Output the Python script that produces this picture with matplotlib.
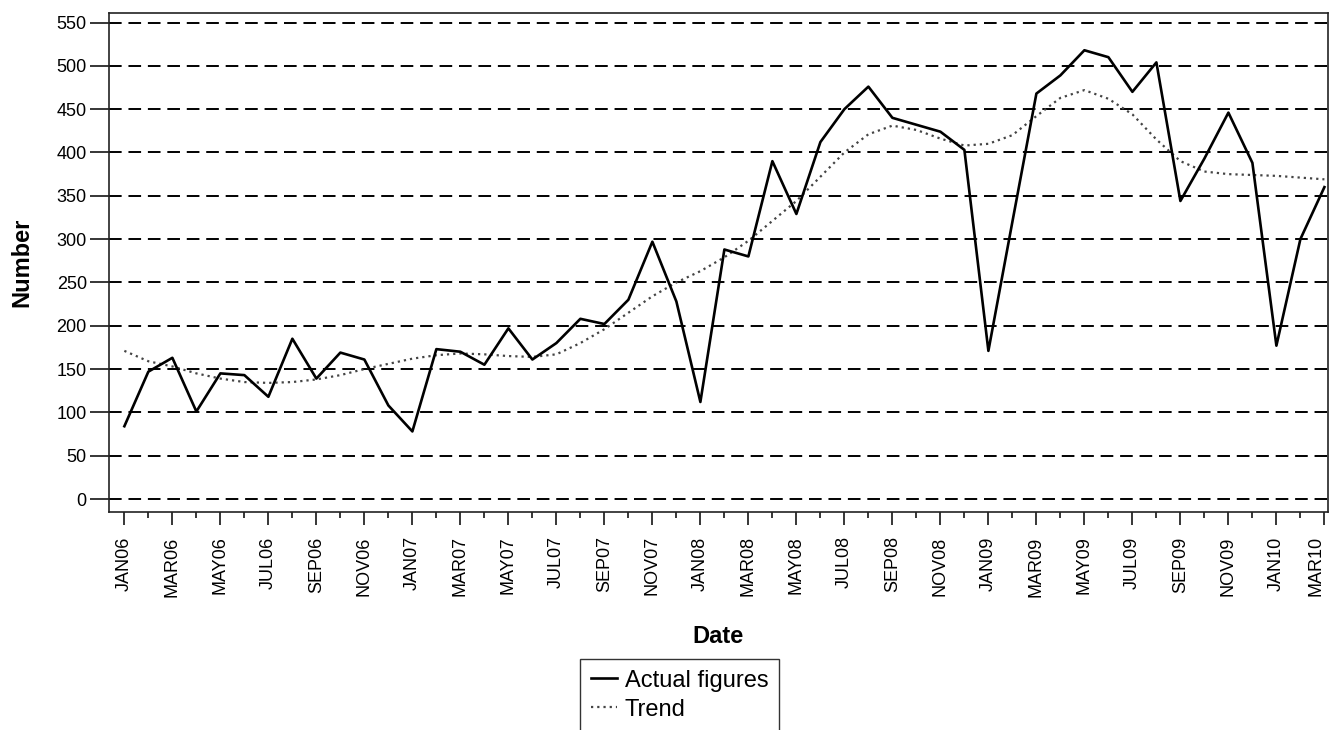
import matplotlib
matplotlib.use('Agg')
import matplotlib.pyplot as plt
from matplotlib.ticker import FixedLocator, NullFormatter
import pandas as pd

# monthly data, JAN06 .. MAR10
months = pd.date_range('2006-01-01', periods=51, freq='MS')
month_labels = [d.strftime('%b%y').upper() for d in months]

actual = [84, 147, 163, 101, 145, 143, 118, 185, 139, 169, 161, 108,
          78, 173, 170, 155, 197, 161, 180, 208, 202, 230, 297, 228,
          112, 288, 280, 390, 329, 412, 450, 476, 440, 432, 424, 403,
          171, 320, 468, 489, 518, 510, 470, 504, 344, 393, 446, 388,
          177, 300, 360]
trend = [171, 159, 153, 145, 139, 135, 134, 135, 138, 143, 150, 156,
         162, 166, 168, 167, 165, 164, 167, 180, 196, 215, 234, 250,
         263, 279, 298, 321, 344, 372, 400, 421, 431, 426, 416, 408,
         410, 420, 442, 463, 472, 462, 444, 415, 390, 378, 375, 374,
         373, 371, 369]

plt.rcParams['font.family'] = ['Liberation Sans', 'DejaVu Sans']

fig = plt.figure(figsize=(13.3, 7.3), dpi=100)
ax = fig.add_axes([109 / 1330, 1 - 512 / 730, 1219 / 1330, 499 / 730])

x = list(range(len(months)))

# horizontal dashed reference lines
for v in range(0, 551, 50):
    ax.axhline(v, color='black', lw=1.4, ls=(0, (6.5, 3.5)), zorder=1)

ax.plot(x, trend, color='#444444', lw=1.6, ls=(0, (1, 1.8)), label='Trend', zorder=2)
ax.plot(x, actual, color='black', lw=1.9, label='Actual figures', zorder=3)

ax.set_xlim(-0.64, 50.15)
ax.set_ylim(-15, 561)

ax.set_yticks(range(0, 551, 50))
ax.xaxis.set_major_locator(FixedLocator(x[::2]))
ax.set_xticklabels(month_labels[::2], rotation=90, va='top', ha='center')
ax.xaxis.set_minor_locator(FixedLocator(x[1::2]))
ax.xaxis.set_minor_formatter(NullFormatter())
# last label sits on the figure edge, keep it inside
ax.get_xticklabels()[-1].set_horizontalalignment('right')

ax.tick_params(axis='y', length=14, width=1.1, pad=2, labelsize=13)
ax.tick_params(axis='x', which='major', length=9.5, width=1.1, pad=8, labelsize=13)
ax.tick_params(axis='x', which='minor', length=4.5, width=1.1)

for s in ax.spines.values():
    s.set_linewidth(1.2)
    s.set_color('#222222')

ax.set_xlabel('Date', fontsize=17, fontweight='bold')
ax.set_ylabel('Number', fontsize=17, fontweight='bold')
ax.xaxis.set_label_coords(0.5, -0.226)
ax.yaxis.set_label_coords(-0.062, 0.5)

handles, labels = ax.get_legend_handles_labels()
leg = fig.legend(handles[::-1], labels[::-1], loc='upper left',
                 bbox_to_anchor=(580 / 1330, 1 - 659 / 730),
                 fontsize=17, frameon=True, fancybox=False, shadow=False,
                 handlelength=1.1, handletextpad=0.35, labelspacing=0.3,
                 borderpad=0.45, borderaxespad=0)
leg.get_frame().set_edgecolor('black')
leg.get_frame().set_linewidth(1.0)

plt.savefig('out.png', dpi=100)
plt.close()
